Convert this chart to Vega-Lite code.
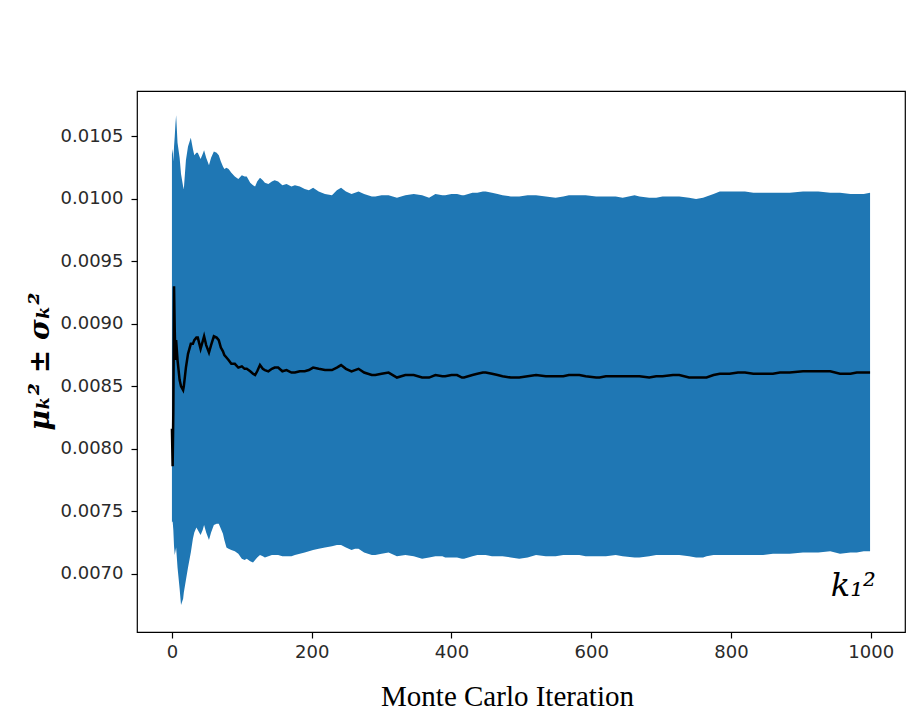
{
  "$schema": "https://vega.github.io/schema/vega-lite/v6.json",
  "width": 768,
  "height": 541,
  "autosize": {"type": "none"},
  "padding": {"left": 137, "top": 91, "right": 18, "bottom": 83},
  "background": "white",
  "config": {
    "view": {"stroke": "black", "strokeWidth": 1.2},
    "axis": {
      "grid": false,
      "domain": false,
      "tickColor": "black",
      "tickWidth": 1.2,
      "tickSize": 6,
      "labelFont": "DejaVu Sans",
      "labelFontSize": 18,
      "labelColor": "#2a2a2a",
      "labelPadding": 5
    }
  },
  "datasets": {
    "mc": [
      {"i": 0, "lo": 0.00741, "hi": 0.01036, "m": 0.00816},
      {"i": 1, "lo": 0.00742, "hi": 0.01040, "m": 0.00786},
      {"i": 2, "lo": 0.00735, "hi": 0.01030, "m": 0.00830},
      {"i": 3, "lo": 0.00722, "hi": 0.01042, "m": 0.00930},
      {"i": 4, "lo": 0.00715, "hi": 0.01050, "m": 0.00895},
      {"i": 5, "lo": 0.00718, "hi": 0.01060, "m": 0.00871},
      {"i": 6, "lo": 0.00721, "hi": 0.01067, "m": 0.00887},
      {"i": 8, "lo": 0.00705, "hi": 0.01045, "m": 0.00871},
      {"i": 11, "lo": 0.00688, "hi": 0.01033, "m": 0.00855},
      {"i": 13, "lo": 0.00675, "hi": 0.01020, "m": 0.00850},
      {"i": 16, "lo": 0.00680, "hi": 0.01010, "m": 0.00847},
      {"i": 17, "lo": 0.00685, "hi": 0.01008, "m": 0.00850},
      {"i": 20, "lo": 0.00695, "hi": 0.01031, "m": 0.00865},
      {"i": 23, "lo": 0.00705, "hi": 0.01042, "m": 0.00876},
      {"i": 27, "lo": 0.00717, "hi": 0.01049, "m": 0.00884},
      {"i": 30, "lo": 0.00728, "hi": 0.01040, "m": 0.00884},
      {"i": 32, "lo": 0.00733, "hi": 0.01035, "m": 0.00887},
      {"i": 35, "lo": 0.00737, "hi": 0.01037, "m": 0.00889},
      {"i": 37, "lo": 0.00735, "hi": 0.01037, "m": 0.00889},
      {"i": 41, "lo": 0.00731, "hi": 0.01032, "m": 0.00880},
      {"i": 44, "lo": 0.00735, "hi": 0.01036, "m": 0.00886},
      {"i": 46, "lo": 0.00739, "hi": 0.01039, "m": 0.00890},
      {"i": 49, "lo": 0.00733, "hi": 0.01033, "m": 0.00883},
      {"i": 53, "lo": 0.00727, "hi": 0.01027, "m": 0.00877},
      {"i": 56, "lo": 0.00733, "hi": 0.01033, "m": 0.00883},
      {"i": 60, "lo": 0.00739, "hi": 0.01038, "m": 0.00890},
      {"i": 64, "lo": 0.00740, "hi": 0.01037, "m": 0.00889},
      {"i": 67, "lo": 0.00740, "hi": 0.01035, "m": 0.00887},
      {"i": 70, "lo": 0.00736, "hi": 0.01030, "m": 0.00881},
      {"i": 73, "lo": 0.00732, "hi": 0.01026, "m": 0.00878},
      {"i": 75, "lo": 0.00727, "hi": 0.01024, "m": 0.00875},
      {"i": 78, "lo": 0.00721, "hi": 0.01025, "m": 0.00873},
      {"i": 81, "lo": 0.00720, "hi": 0.01024, "m": 0.00871},
      {"i": 85, "lo": 0.00719, "hi": 0.01021, "m": 0.00868},
      {"i": 90, "lo": 0.00718, "hi": 0.01018, "m": 0.00868},
      {"i": 95, "lo": 0.00716, "hi": 0.01016, "m": 0.00865},
      {"i": 100, "lo": 0.00712, "hi": 0.01019, "m": 0.00866},
      {"i": 104, "lo": 0.00711, "hi": 0.01018, "m": 0.00864},
      {"i": 107, "lo": 0.00712, "hi": 0.01018, "m": 0.00864},
      {"i": 112, "lo": 0.00710, "hi": 0.01013, "m": 0.00862},
      {"i": 116, "lo": 0.00709, "hi": 0.01011, "m": 0.00860},
      {"i": 119, "lo": 0.00711, "hi": 0.01010, "m": 0.00859},
      {"i": 122, "lo": 0.00713, "hi": 0.01014, "m": 0.00862},
      {"i": 126, "lo": 0.00715, "hi": 0.01017, "m": 0.00867},
      {"i": 130, "lo": 0.00714, "hi": 0.01015, "m": 0.00864},
      {"i": 133, "lo": 0.00713, "hi": 0.01013, "m": 0.00863},
      {"i": 138, "lo": 0.00714, "hi": 0.01012, "m": 0.00862},
      {"i": 143, "lo": 0.00715, "hi": 0.01014, "m": 0.00864},
      {"i": 147, "lo": 0.00715, "hi": 0.01015, "m": 0.00865},
      {"i": 152, "lo": 0.00715, "hi": 0.01014, "m": 0.00865},
      {"i": 158, "lo": 0.00714, "hi": 0.01011, "m": 0.00862},
      {"i": 164, "lo": 0.00714, "hi": 0.01012, "m": 0.00863},
      {"i": 171, "lo": 0.00714, "hi": 0.01010, "m": 0.00861},
      {"i": 176, "lo": 0.00715, "hi": 0.01011, "m": 0.00861},
      {"i": 183, "lo": 0.00716, "hi": 0.01010, "m": 0.00862},
      {"i": 190, "lo": 0.00717, "hi": 0.01008, "m": 0.00862},
      {"i": 196, "lo": 0.00718, "hi": 0.01007, "m": 0.00863},
      {"i": 202, "lo": 0.00719, "hi": 0.01009, "m": 0.00865},
      {"i": 210, "lo": 0.00720, "hi": 0.01006, "m": 0.00864},
      {"i": 219, "lo": 0.00721, "hi": 0.01004, "m": 0.00863},
      {"i": 229, "lo": 0.00722, "hi": 0.01003, "m": 0.00863},
      {"i": 236, "lo": 0.00723, "hi": 0.01007, "m": 0.00865},
      {"i": 242, "lo": 0.00723, "hi": 0.01009, "m": 0.00867},
      {"i": 249, "lo": 0.00721, "hi": 0.01006, "m": 0.00864},
      {"i": 257, "lo": 0.00719, "hi": 0.01004, "m": 0.00862},
      {"i": 262, "lo": 0.00720, "hi": 0.01005, "m": 0.00863},
      {"i": 267, "lo": 0.00720, "hi": 0.01006, "m": 0.00864},
      {"i": 275, "lo": 0.00717, "hi": 0.01004, "m": 0.00861},
      {"i": 286, "lo": 0.00715, "hi": 0.01002, "m": 0.00859},
      {"i": 291, "lo": 0.00715, "hi": 0.01002, "m": 0.00859},
      {"i": 300, "lo": 0.00716, "hi": 0.01003, "m": 0.00860},
      {"i": 310, "lo": 0.00717, "hi": 0.01003, "m": 0.00861},
      {"i": 322, "lo": 0.00714, "hi": 0.01001, "m": 0.00857},
      {"i": 334, "lo": 0.00715, "hi": 0.01003, "m": 0.00859},
      {"i": 346, "lo": 0.00714, "hi": 0.01004, "m": 0.00859},
      {"i": 358, "lo": 0.00712, "hi": 0.01003, "m": 0.00857},
      {"i": 368, "lo": 0.00713, "hi": 0.01001, "m": 0.00857},
      {"i": 377, "lo": 0.00714, "hi": 0.01004, "m": 0.00859},
      {"i": 387, "lo": 0.00714, "hi": 0.01003, "m": 0.00858},
      {"i": 391, "lo": 0.00713, "hi": 0.01003, "m": 0.00858},
      {"i": 400, "lo": 0.00713, "hi": 0.01004, "m": 0.00859},
      {"i": 408, "lo": 0.00713, "hi": 0.01004, "m": 0.00859},
      {"i": 415, "lo": 0.00712, "hi": 0.01003, "m": 0.00857},
      {"i": 418, "lo": 0.00712, "hi": 0.01003, "m": 0.00857},
      {"i": 430, "lo": 0.00714, "hi": 0.01005, "m": 0.00859},
      {"i": 437, "lo": 0.00715, "hi": 0.01005, "m": 0.00860},
      {"i": 445, "lo": 0.00715, "hi": 0.01006, "m": 0.00861},
      {"i": 449, "lo": 0.00715, "hi": 0.01006, "m": 0.00861},
      {"i": 458, "lo": 0.00714, "hi": 0.01005, "m": 0.00860},
      {"i": 466, "lo": 0.00714, "hi": 0.01004, "m": 0.00859},
      {"i": 473, "lo": 0.00714, "hi": 0.01003, "m": 0.00858},
      {"i": 485, "lo": 0.00713, "hi": 0.01002, "m": 0.00857},
      {"i": 497, "lo": 0.00712, "hi": 0.01002, "m": 0.00857},
      {"i": 509, "lo": 0.00713, "hi": 0.01003, "m": 0.00858},
      {"i": 521, "lo": 0.00715, "hi": 0.01003, "m": 0.00859},
      {"i": 535, "lo": 0.00714, "hi": 0.01002, "m": 0.00858},
      {"i": 549, "lo": 0.00714, "hi": 0.01001, "m": 0.00858},
      {"i": 560, "lo": 0.00715, "hi": 0.01002, "m": 0.00858},
      {"i": 568, "lo": 0.00715, "hi": 0.01003, "m": 0.00859},
      {"i": 583, "lo": 0.00715, "hi": 0.01003, "m": 0.00859},
      {"i": 592, "lo": 0.00714, "hi": 0.01003, "m": 0.00858},
      {"i": 607, "lo": 0.00714, "hi": 0.01002, "m": 0.00857},
      {"i": 612, "lo": 0.00714, "hi": 0.01002, "m": 0.00857},
      {"i": 621, "lo": 0.00714, "hi": 0.01002, "m": 0.00858},
      {"i": 635, "lo": 0.00715, "hi": 0.01002, "m": 0.00858},
      {"i": 645, "lo": 0.00714, "hi": 0.01001, "m": 0.00858},
      {"i": 662, "lo": 0.00713, "hi": 0.01003, "m": 0.00858},
      {"i": 669, "lo": 0.00713, "hi": 0.01002, "m": 0.00858},
      {"i": 683, "lo": 0.00714, "hi": 0.01001, "m": 0.00857},
      {"i": 693, "lo": 0.00715, "hi": 0.01001, "m": 0.00858},
      {"i": 702, "lo": 0.00715, "hi": 0.01002, "m": 0.00858},
      {"i": 717, "lo": 0.00715, "hi": 0.01002, "m": 0.00859},
      {"i": 726, "lo": 0.00715, "hi": 0.01002, "m": 0.00859},
      {"i": 740, "lo": 0.00714, "hi": 0.01001, "m": 0.00857},
      {"i": 750, "lo": 0.00713, "hi": 0.01000, "m": 0.00857},
      {"i": 760, "lo": 0.00713, "hi": 0.01001, "m": 0.00857},
      {"i": 765, "lo": 0.00714, "hi": 0.01002, "m": 0.00857},
      {"i": 775, "lo": 0.00715, "hi": 0.01004, "m": 0.00859},
      {"i": 784, "lo": 0.00715, "hi": 0.01006, "m": 0.00860},
      {"i": 798, "lo": 0.00715, "hi": 0.01006, "m": 0.00860},
      {"i": 810, "lo": 0.00715, "hi": 0.01006, "m": 0.00861},
      {"i": 820, "lo": 0.00715, "hi": 0.01006, "m": 0.00861},
      {"i": 832, "lo": 0.00715, "hi": 0.01005, "m": 0.00860},
      {"i": 846, "lo": 0.00715, "hi": 0.01005, "m": 0.00860},
      {"i": 860, "lo": 0.00716, "hi": 0.01005, "m": 0.00860},
      {"i": 870, "lo": 0.00716, "hi": 0.01005, "m": 0.00861},
      {"i": 884, "lo": 0.00716, "hi": 0.01005, "m": 0.00861},
      {"i": 903, "lo": 0.00717, "hi": 0.01006, "m": 0.00862},
      {"i": 908, "lo": 0.00717, "hi": 0.01006, "m": 0.00862},
      {"i": 925, "lo": 0.00717, "hi": 0.01006, "m": 0.00862},
      {"i": 942, "lo": 0.00718, "hi": 0.01005, "m": 0.00862},
      {"i": 956, "lo": 0.00716, "hi": 0.01005, "m": 0.00860},
      {"i": 971, "lo": 0.00717, "hi": 0.01004, "m": 0.00860},
      {"i": 980, "lo": 0.00717, "hi": 0.01004, "m": 0.00861},
      {"i": 990, "lo": 0.00718, "hi": 0.01004, "m": 0.00861},
      {"i": 999, "lo": 0.00718, "hi": 0.01005, "m": 0.00861}
    ],
    "note": [
      {"i": 975, "v": 0.00690, "label": "k₁²"}
    ]
  },
  "layer": [
    {
      "data": {"name": "mc"},
      "mark": {"type": "area", "color": "#1f77b4", "opacity": 1},
      "encoding": {
        "x": {
          "field": "i", "type": "quantitative",
          "scale": {"domain": [-50, 1049], "nice": false, "zero": false},
          "axis": {
            "values": [0, 200, 400, 600, 800, 1000],
            "format": "d",
            "title": "Monte Carlo Iteration",
            "titleFont": "Liberation Serif",
            "titleFontSize": 29,
            "titleFontWeight": "normal",
            "titleColor": "black",
            "titleX": 370,
            "titleY": 73,
            "titleBaseline": "alphabetic"
          }
        },
        "y": {
          "field": "lo", "type": "quantitative",
          "scale": {"domain": [0.006533, 0.010864], "nice": false, "zero": false},
          "axis": {
            "values": [0.007, 0.0075, 0.008, 0.0085, 0.009, 0.0095, 0.01, 0.0105],
            "format": ".4f",
            "labelPadding": 8,
            "title": "μₖ² ± σₖ²",
            "titleFont": "DejaVu Serif",
            "titleFontStyle": "italic",
            "titleFontSize": 28,
            "titleFontWeight": "bold",
            "titleColor": "black",
            "titleAngle": -90,
            "titleX": -97,
            "titleY": 270,
            "titleAlign": "center",
            "titleBaseline": "middle"
          }
        },
        "y2": {"field": "hi"}
      }
    },
    {
      "data": {"name": "mc"},
      "mark": {"type": "line", "color": "black", "strokeWidth": 2.5},
      "encoding": {
        "x": {"field": "i", "type": "quantitative"},
        "y": {"field": "m", "type": "quantitative"}
      }
    },
    {
      "data": {"name": "note"},
      "mark": {"type": "text", "font": "DejaVu Serif", "fontStyle": "italic", "fontSize": 32, "color": "black", "align": "center", "baseline": "middle"},
      "encoding": {
        "x": {"field": "i", "type": "quantitative"},
        "y": {"field": "v", "type": "quantitative"},
        "text": {"field": "label"}
      }
    }
  ]
}
